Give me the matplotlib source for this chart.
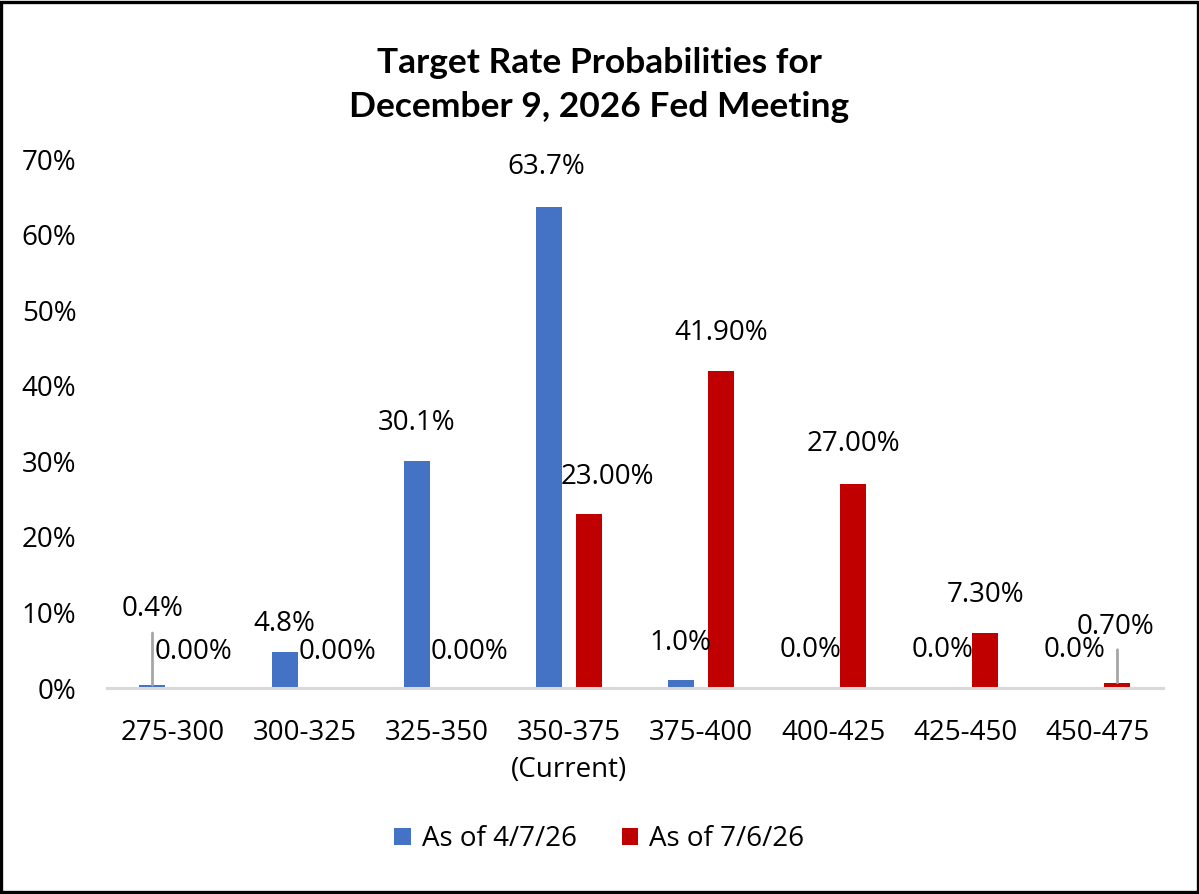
import matplotlib
matplotlib.use("Agg")
import matplotlib.pyplot as plt
from matplotlib.patches import Rectangle
from matplotlib.ticker import PercentFormatter
import numpy as np

# Datos del gráfico (probabilidades en %)
rangos = ["275-300", "300-325", "325-350", "350-375\n(Current)", "375-400",
          "400-425", "425-450", "450-475"]
prob_abril = [0.4, 4.8, 30.1, 63.7, 1.0, 0.0, 0.0, 0.0]
prob_julio = [0.00, 0.00, 0.00, 23.00, 41.90, 27.00, 7.30, 0.70]
etiqueta_abril = "As of 4/7/26"
etiqueta_julio = "As of 7/6/26"

azul = "#4472C4"
rojo = "#C00000"
fuente = ["Open Sans", "DejaVu Sans"]
tam = 20

fig = plt.figure(figsize=(11.99, 8.94), dpi=100)
ax = fig.add_axes([0.0892, 0.2304, 0.8808, 0.5917])

x = np.arange(len(rangos))
ancho = 0.197
desp = 0.155
barras_a = ax.bar(x - desp, prob_abril, ancho, color=azul, label=etiqueta_abril)
barras_j = ax.bar(x + desp, prob_julio, ancho, color=rojo, label=etiqueta_julio)

ax.set_xlim(-0.5, len(rangos) - 0.5)
ax.set_ylim(0, 70)
ax.set_yticks(range(0, 71, 10))
ax.yaxis.set_major_formatter(PercentFormatter(decimals=0))
ax.set_xticks(x)
ax.set_xticklabels(rangos, linespacing=1.45)

for lado in ["top", "right", "left"]:
    ax.spines[lado].set_visible(False)
ax.spines["bottom"].set_color("#d9d9d9")
ax.spines["bottom"].set_linewidth(2.2)
ax.tick_params(axis="both", length=0, labelsize=tam, labelcolor="black")
ax.tick_params(axis="x", pad=22)
ax.tick_params(axis="y", pad=22)
for t in ax.get_xticklabels() + ax.get_yticklabels():
    t.set_family(fuente)

# desplazamientos de etiquetas en píxeles (dx, dy desde la parte superior de la barra)
px = 0.72
desp_abril = [(0, 76), (0, 28), (0, 38), (-2, 40), (0, 37), (-2, 38), (-2, 38), (-2, 38)]
desp_julio = [(0, 36), (12, 36), (12, 36), (18, 37), (0, 38), (0, 40), (0, 38), (-2, 56)]

for barras, valores, offs, fmt in [(barras_a, prob_abril, desp_abril, "{:.1f}%"),
                                   (barras_j, prob_julio, desp_julio, "{:.2f}%")]:
    for b, v, (dx, dy) in zip(barras, valores, offs):
        xc = b.get_x() + b.get_width() / 2
        ax.annotate(fmt.format(v), (xc, v), xytext=(dx * px, dy * px),
                    textcoords="offset points", ha="center", va="center",
                    fontsize=tam, family=fuente, color="black", annotation_clip=False)

# líneas guía de las etiquetas pequeñas
for b, v, largo in [(barras_a[0], prob_abril[0], 52), (barras_j[7], prob_julio[7], 33)]:
    xc = b.get_x() + b.get_width() / 2
    ax.annotate("", (xc, v), xytext=(0, largo * px), textcoords="offset points",
                arrowprops=dict(arrowstyle="-", color="#a6a6a6", lw=2,
                                shrinkA=0, shrinkB=0))

fig.text(0.5, 0.929, "Target Rate Probabilities for", ha="center", va="center",
         fontsize=25.5, fontweight="bold", family=["Lato", "DejaVu Sans"])
fig.text(0.5, 0.880, "December 9, 2026 Fed Meeting", ha="center", va="center",
         fontsize=25.5, fontweight="bold", family=["Lato", "DejaVu Sans"])

fig.legend(loc="center", bbox_to_anchor=(0.5, 0.061), ncol=2, frameon=False,
           prop={"family": fuente, "size": tam}, handlelength=0.6, handleheight=0.6,
           handletextpad=0.4, columnspacing=1.6)

fig.patches.append(Rectangle((0.0012, 0.0017), 0.9976, 0.9966, transform=fig.transFigure,
                             fill=False, edgecolor="black", linewidth=2.4))

fig.savefig("out.png", dpi=100)
